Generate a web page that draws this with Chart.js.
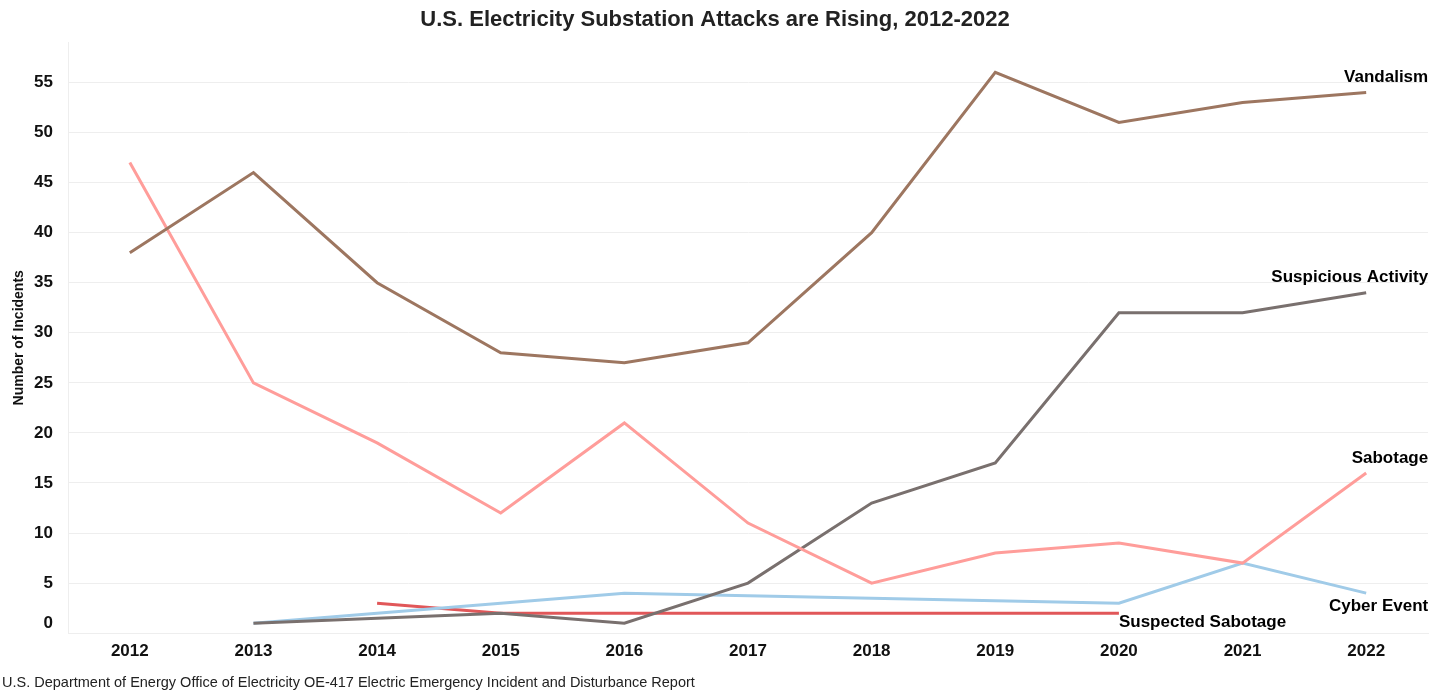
<!DOCTYPE html>
<html>
<head>
<meta charset="utf-8">
<script src="https://cdn.jsdelivr.net/npm/chart.js@4/dist/chart.umd.min.js"></script>
<style>
  html, body { margin: 0; padding: 0; background: #fff; }
  #wrap { width: 1430px; height: 692px; }
</style>
</head>
<body>
<div id="wrap"><canvas id="attacksChart"></canvas></div>
<script>
const years = ["2012", "2013", "2014", "2015", "2016", "2017", "2018", "2019", "2020", "2021", "2022"];

const vandalism = [38, 46, 35, 28, 27, 29, 40, 56, 51, 53, 54];
const sabotage = [47, 25, 19, 12, 21, 11, 5, 8, 9, 7, 16];
const suspicious = [null, 1, null, 2, 1, 5, 13, 17, 32, 32, 34];
const cyberEvent = [null, 1, 2, 3, 4, null, null, null, 3, 7, 4];
const suspectedSabotage = [null, null, 3, 2, 2, 2, 2, 2, 2, null, null];

const seriesNames = ["Vandalism", "Sabotage", "Suspicious Activity", "Cyber Event", "Suspected Sabotage"];

const FONT = "'Liberation Sans', Arial, Helvetica, sans-serif";

// label each line at its last point
const endLabels = {
    id: "endLabels",
    afterDatasetsDraw(chart) {
        const ctx = chart.ctx;
        const place = {
            "Vandalism": { dx: 62, dy: -15, align: "right" },
            "Suspicious Activity": { dx: 62, dy: -15, align: "right" },
            "Sabotage": { dx: 62, dy: -15, align: "right" },
            "Cyber Event": { dx: 62, dy: 13, align: "right" },
            "Suspected Sabotage": { dx: 0, dy: 9, align: "left" },
        };
        ctx.save();
        ctx.font = "bold 17px " + FONT;
        ctx.fillStyle = "#000";
        ctx.textBaseline = "middle";
        chart.data.datasets.forEach((ds, i) => {
            const meta = chart.getDatasetMeta(i);
            let last = -1;
            ds.data.forEach((v, j) => { if (v !== null) last = j; });
            if (last < 0) return;
            const pt = meta.data[last];
            const p = place[ds.label];
            ctx.textAlign = p.align;
            ctx.fillText(ds.label, pt.x + p.dx, pt.y + p.dy);
        });
        ctx.restore();
    }
};

const ctx = document.getElementById("attacksChart").getContext("2d");
new Chart(ctx, {
    type: "line",
    data: {
        labels: years,
        datasets: [
            { label: seriesNames[0], data: vandalism, borderColor: "#9D7660" },
            { label: seriesNames[1], data: sabotage, borderColor: "#FF9D9A" },
            { label: seriesNames[2], data: suspicious, borderColor: "#79706E" },
            { label: seriesNames[3], data: cyberEvent, borderColor: "#A0CBE8" },
            { label: seriesNames[4], data: suspectedSabotage, borderColor: "#E15759" },
        ].map(d => Object.assign(d, {
            borderWidth: 3,
            pointRadius: 0,
            tension: 0,
            spanGaps: true,
            fill: false,
        })),
    },
    options: {
        responsive: true,
        maintainAspectRatio: false,
        animation: false,
        layout: { padding: { left: 2, right: 2, top: 0, bottom: 0 } },
        plugins: {
            legend: { display: false },
            tooltip: { enabled: false },
            title: {
                display: true,
                text: "U.S. Electricity Substation Attacks are Rising, 2012-2022",
                color: "#222",
                font: { family: FONT, size: 22, weight: "bold" },
                padding: { top: 7, bottom: 9 },
            },
            subtitle: {
                display: true,
                position: "bottom",
                align: "start",
                text: "U.S. Department of Energy Office of Electricity OE-417 Electric Emergency Incident and Disturbance Report",
                color: "#222",
                font: { family: FONT, size: 14.5 },
                padding: { top: 5, bottom: 0 },
            },
        },
        scales: {
            x: {
                offset: true,
                grid: { display: false, drawTicks: false },
                border: { display: true, color: "#eeeeee" },
                ticks: {
                    color: "#111",
                    font: { family: FONT, size: 17, weight: "bold" },
                    padding: 8,
                    maxRotation: 0,
                },
            },
            y: {
                min: 0,
                max: 59,
                afterBuildTicks: (scale) => {
                    scale.ticks = scale.ticks.filter(t => t.value % 5 === 0);
                },
                afterFit: (scale) => { scale.width = 66; },
                grid: { color: "#eeeeee", drawTicks: false, lineWidth: 1 },
                border: { display: true, color: "#eeeeee" },
                ticks: {
                    stepSize: 5,
                    color: "#111",
                    font: { family: FONT, size: 17, weight: "bold" },
                    padding: 15,
                    callback: (v) => (v === 0 ? ["0", ""] : String(v)),
                },
                title: {
                    display: true,
                    text: "Number of Incidents",
                    color: "#111",
                    font: { family: FONT, size: 14, weight: "bold" },
                    padding: { top: 9, bottom: 0 },
                },
            },
        },
    },
    plugins: [endLabels],
});
</script>
</body>
</html>
